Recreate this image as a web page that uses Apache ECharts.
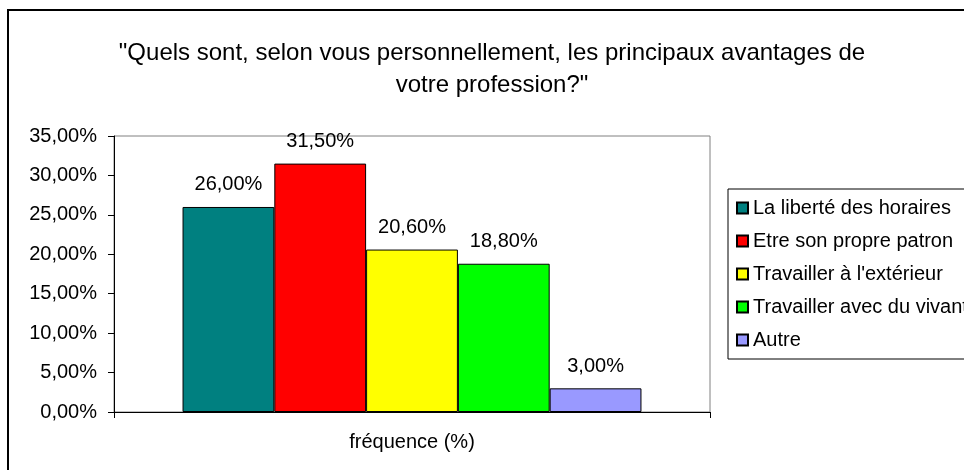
<!DOCTYPE html>
<html>
<head>
<meta charset="utf-8">
<script src="https://cdn.jsdelivr.net/npm/echarts@6/dist/echarts.min.js"></script>
<style>
  html, body { margin: 0; padding: 0; background: #fff; }
  #chart { width: 964px; height: 470px; }
</style>
</head>
<body>
<div id="chart"></div>
<script>
// data
const categories = ['fréquence (%)'];
const seriesNames = ['La liberté des horaires', 'Etre son propre patron', "Travailler à l'extérieur", 'Travailler avec du vivant', 'Autre'];
const seriesValues = [26.0, 31.5, 20.6, 18.8, 3.0];
const seriesColors = ['#008080', '#ff0000', '#ffff00', '#00ff00', '#9999ff'];

const FONT = 'Liberation Sans, Arial, sans-serif';
const frPct = v => v.toFixed(2).replace('.', ',') + '%';

const chart = echarts.init(document.getElementById('chart'));
chart.setOption({
  backgroundColor: '#fff',
  animation: false,
  textStyle: { fontFamily: FONT },
  title: {
    text: '"Quels sont, selon vous personnellement, les principaux avantages de\nvotre profession?"',
    left: 487,
    textAlign: 'center',
    top: 32,
    textStyle: { fontFamily: FONT, fontSize: 24, fontWeight: 'normal', color: '#000', lineHeight: 32 }
  },
  graphic: [{
    type: 'rect',
    shape: { x: 8, y: 10, width: 1000, height: 500 },
    style: { fill: null, stroke: '#000', lineWidth: 2 },
    silent: true
  }],
  legend: {
    orient: 'vertical',
    left: 728,
    top: 189,
    padding: [9, 30, 9, 8],
    itemGap: 13,
    itemWidth: 11,
    itemHeight: 11,
    icon: 'rect',
    borderColor: '#000',
    borderWidth: 1,
    textStyle: { fontFamily: FONT, fontSize: 20, color: '#000' },
    data: seriesNames
  },
  grid: {
    left: 114, top: 136, right: 254, bottom: 58,
    show: true, borderColor: '#808080', borderWidth: 1
  },
  xAxis: {
    type: 'category',
    data: categories,
    axisLine: { lineStyle: { color: '#000' } },
    axisTick: { show: true, length: 6, lineStyle: { color: '#000' } },
    axisLabel: { margin: 20, fontFamily: FONT, fontSize: 20, color: '#000' }
  },
  yAxis: {
    type: 'value',
    min: 0, max: 35, interval: 5,
    splitLine: { show: false },
    axisLine: { show: true, lineStyle: { color: '#000' } },
    axisTick: { show: true, length: 6, lineStyle: { color: '#000' } },
    axisLabel: { margin: 17, fontFamily: FONT, fontSize: 20, color: '#000', formatter: frPct }
  },
  series: seriesNames.map((name, i) => ({
    name: name,
    type: 'bar',
    data: [seriesValues[i]],
    barGap: '0%',
    barCategoryGap: '23%',
    itemStyle: { color: seriesColors[i], borderColor: '#000', borderWidth: 1 },
    label: {
      show: true, position: 'top', distance: 12,
      fontFamily: FONT, fontSize: 20, color: '#000',
      formatter: p => frPct(p.value)
    }
  }))
});
</script>
</body>
</html>
